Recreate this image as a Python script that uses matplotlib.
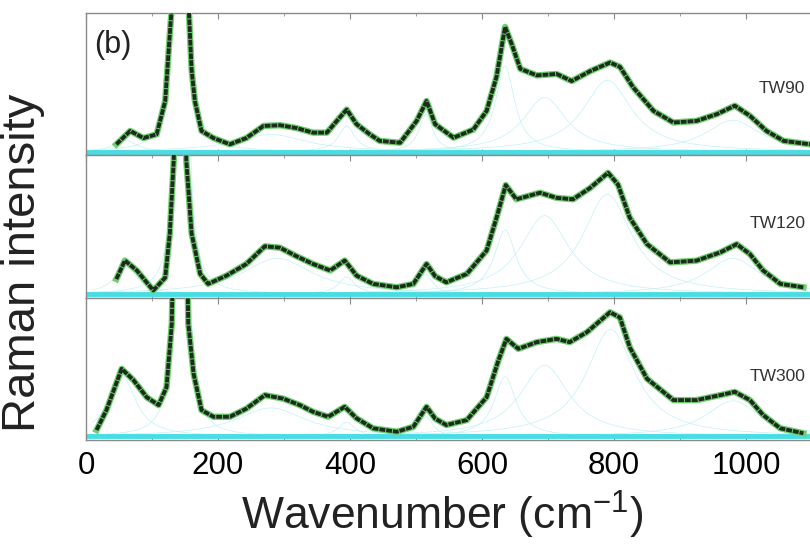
import numpy as np
import matplotlib
matplotlib.use("Agg")
import matplotlib.pyplot as plt
from matplotlib.ticker import MultipleLocator

plt.rcParams['font.family'] = ['Liberation Sans', 'DejaVu Sans']

tw90_x = [46, 67, 87, 107, 120, 127, 131, 137, 143, 149, 155, 160, 165, 175, 193, 218,
          243, 269, 294, 319, 344, 365, 380, 395, 410, 430, 445, 476, 501, 516, 529, 557,
          587, 607, 622, 635, 645, 658, 683, 713, 736, 764, 794, 809, 829, 860, 890, 925,
          956, 983, 1006, 1031, 1057, 1097]
tw90_y = [7.6, 17, 12, 14.6, 38, 85, 110, 260, 420, 260, 110, 60, 38, 17, 12, 7.6,
          12, 20.5, 21, 19, 15.8, 15.8, 24, 32, 21.7, 14.6, 10, 8.7, 24, 38, 21.7, 12.2,
          18, 31, 55, 90, 78, 60.6, 56, 57, 52, 59, 65, 62, 47.6, 31, 22.9, 24,
          28.8, 34.7, 27.6, 17, 10, 7.6]

tw120_x = [46, 59, 77, 102, 120, 127, 133, 138, 143, 148, 152, 160, 173, 185, 213, 243,
           271, 294, 319, 344, 370, 392, 410, 435, 471, 496, 516, 529, 546, 577, 607, 622,
           636, 652, 688, 713, 738, 764, 791, 806, 824, 850, 885, 925, 961, 986, 1006, 1026,
           1052, 1087]
tw120_y = [13, 26, 19, 5, 14, 45, 97, 250, 400, 250, 96, 45, 16.6, 9.6, 15.4, 23.6,
           36, 35, 29, 23.6, 19, 26, 15.4, 9.6, 7.2, 9.6, 23.6, 15, 10.7, 16.6, 33, 56,
           79, 69, 73.6, 70, 69, 77, 87.6, 79.4, 56, 37.5, 24.7, 25.9, 31.7, 37.5, 30.5, 19,
           9.6, 7.2]

tw300_x = [16, 31, 54, 72, 92, 110, 122, 130, 137, 143, 149, 155, 163, 175, 193, 218,
           243, 271, 299, 324, 344, 367, 392, 410, 435, 471, 496, 516, 529, 546, 577, 607,
           625, 637, 655, 683, 713, 733, 759, 794, 809, 824, 850, 890, 925, 961, 983, 1006,
           1026, 1052, 1087]
tw300_y = [7, 21, 50, 42, 30, 24.5, 37, 81.6, 250, 400, 250, 81.6, 46.6, 21, 16.3, 16.3,
           22, 31.5, 29, 24.5, 19.8, 16.3, 23.3, 15.2, 8.2, 5.8, 9.3, 23.3, 15, 10.5, 14, 30,
           56, 71, 64, 68.7, 71, 68.7, 75.7, 89.7, 86, 65, 43, 28, 28, 31.5, 33.8, 28,
           17.5, 8.2, 4.7]

# fitted peak components: centre (cm-1), height, fwhm
tw90_centres = [60, 145, 280, 395, 515, 635, 695, 790, 980]
tw90_heights = [8, 600, 12, 18, 26, 60, 38, 50, 22]
tw90_widths = [40, 12, 130, 30, 25, 35, 80, 90, 100]

tw120_centres = [60, 145, 290, 395, 515, 635, 695, 790, 980]
tw120_heights = [20, 600, 25, 12, 14, 45, 55, 70, 25]
tw120_widths = [40, 12, 130, 30, 25, 40, 90, 90, 100]

tw300_centres = [55, 145, 280, 395, 515, 635, 695, 795, 980]
tw300_heights = [42, 600, 20, 10, 14, 42, 50, 75, 25]
tw300_widths = [50, 12, 130, 30, 25, 40, 90, 90, 100]

labels = ["TW90", "TW120", "TW300"]
label_y = [47, 51.7, 44.8]
baseline = 2.5

panels = [(tw90_x, tw90_y, tw90_centres, tw90_heights, tw90_widths),
          (tw120_x, tw120_y, tw120_centres, tw120_heights, tw120_widths),
          (tw300_x, tw300_y, tw300_centres, tw300_heights, tw300_widths)]


def lorentz(x, c, h, w):
    return h / (1 + ((x - c) / (w / 2)) ** 2)


fig = plt.figure(figsize=(8.1, 5.47), dpi=100)
left, right, bottom, top = 86 / 810, 1.0, 1 - 440 / 547, 1 - 12.7 / 547
ph = (top - bottom) / 3
grid = np.linspace(10, 1100, 1200)

for i, (px, py, cs, hs, ws) in enumerate(panels):
    ax = fig.add_axes([left, top - (i + 1) * ph, right - left, ph])
    for c, h, w in zip(cs, hs, ws):
        ax.plot(grid, baseline + lorentz(grid, c, h, w), color="#c4f0f6", lw=0.5, zorder=1)
    ax.axhline(baseline, color="#48dde4", lw=3.5, zorder=2)
    ax.plot(px, py, color="#6fcf6f", lw=4.6, solid_joinstyle="round", zorder=3)
    ax.plot(px, py, color="#1d2b1d", lw=2.8, ls=(0, (1.5, 0.25)), solid_joinstyle="round",
            zorder=4)
    ax.text(1090, label_y[i], labels[i], ha="right", va="center", fontsize=12.5, color="#333333")
    ax.set_xlim(0, 1097)
    ax.set_ylim(0, 100)
    ax.set_yticks([])
    ax.xaxis.set_major_locator(MultipleLocator(200))
    ax.xaxis.set_minor_locator(MultipleLocator(100))
    ax.tick_params(axis="x", which="both", direction="in", top=True, bottom=True,
                   color="#888888", labelsize=22.5, pad=8)
    ax.tick_params(axis="x", which="major", length=4)
    ax.tick_params(axis="x", which="minor", length=2.5)
    for s in ax.spines.values():
        s.set_color("#8a8a8a")
        s.set_linewidth(1.0)
    ax.spines["right"].set_visible(False)
    if i < 2:
        ax.tick_params(labelbottom=False)
    if i == 0:
        ax.text(12, 77, "(b)", fontsize=22, color="#222222", va="center")

fig.text(0.028, 0.52, "Raman intensity", rotation=90, ha="center", va="center", fontsize=34,
         color="#222222")
fig.text(0.546, 1 - 530 / 547, r"Wavenumber (cm$^{\mathregular{-1}}$)", ha="center",
         va="baseline", fontsize=32, color="#222222")

fig.savefig("out.png", dpi=100)
